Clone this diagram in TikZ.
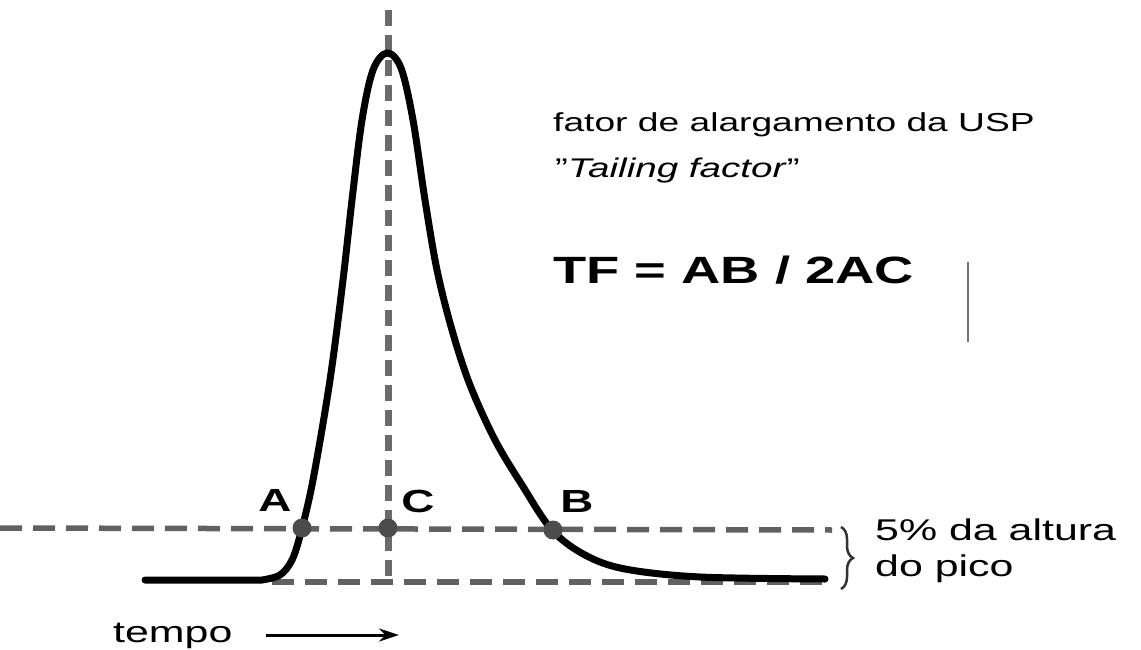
\documentclass[tikz,border=0pt]{standalone}
\usepackage{fontspec}
\setmainfont{Liberation Sans}
\usetikzlibrary{decorations.pathreplacing,arrows.meta}
\newcommand{\sx}[1]{\scalebox{1.43}[1]{#1}}
\begin{document}
\begin{tikzpicture}[x=1pt,y=-1pt,
  curve/.style={line width=7pt,black,line join=round,line cap=round},
  hdash/.style={line width=5.5pt,color=black!62,dash pattern=on 22pt off 11pt},
  vdash/.style={line width=7pt,color=black!58,dash pattern=on 16pt off 9pt},
  dotmark/.style={circle,fill=black!70,inner sep=0pt,minimum size=19pt},
  lbl/.style={inner sep=0pt,font=\fontsize{32}{36}\selectfont\bfseries},
  txt/.style={inner sep=0pt,anchor=base west}]
\useasboundingbox (0,0) rectangle (1141,650);
% vertical dashed line
\coordinate (vtop) at (388,10);
\coordinate (vbot) at (388,584);
\draw[vdash] (vtop) -- (vbot);
% horizontal dashed lines
\coordinate (h1l) at (0,528);
\coordinate (h1r) at (832,530);
\coordinate (h2l) at (272,582);
\coordinate (h2r) at (832,582);
\draw[hdash] (h1l) -- (h1r);
\draw[hdash] (h2l) -- (h2r);
% peak curve
\draw[curve] (145,580) -- (262,580)
  plot[smooth,tension=0.55] coordinates {(262,580) (280,575) (292,560) (301,532) (313,480) (330,380) (343,280) (352,200) (362,120) (373,70) (387,53) (401,68) (413,120) (425,200) (437,270) (452,330) (470,385) (495,440) (522,485) (552,530) (585,555) (625,569) (700,577) (825,579)};
% points
\node[dotmark] (A) at (302,528) {};
\node[dotmark] (C) at (388,528) {};
\node[dotmark] (B) at (553,530) {};
\node[lbl] (la) at (275,500) {\sx{A}};
\node[lbl] (lc) at (418,501) {\sx{C}};
\node[lbl] (lb) at (577,501) {\sx{B}};
% brace
\coordinate (bt) at (841,527);
\coordinate (bb) at (841,589);
\draw[line width=2.5pt,black!80,decorate,decoration={brace,amplitude=12pt}] (bt) -- (bb);
\node[txt,font=\fontsize{30}{34}\selectfont] (t5) at (875,540) {\sx{5\% da altura}};
\node[txt,font=\fontsize{30}{34}\selectfont] (tp) at (875,576) {\sx{do pico}};
% texts top right
\node[txt,font=\fontsize{26}{30}\selectfont] (t1) at (553,132) {\sx{fator de alargamento da USP}};
\node[txt,font=\fontsize{27}{30}\selectfont] (t2) at (555,178) {\sx{\char"22\textit{Tailing factor}\char"22}};
\node[txt,font=\fontsize{38}{40}\selectfont\bfseries] (t3) at (553,283) {\sx{TF = AB / 2AC}};
\coordinate (vl1) at (968,262);
\coordinate (vl2) at (968,342);
\draw[line width=2pt,black!55] (vl1) -- (vl2);
% tempo arrow
\node[txt,font=\fontsize{30}{34}\selectfont] (tempo) at (113,642) {\sx{tempo}};
\coordinate (ar1) at (266,635);
\coordinate (ar2) at (399,635);
\draw[line width=3pt,-{Stealth[length=20pt,width=13pt]}] (ar1) -- (ar2);
\end{tikzpicture}
\end{document}
